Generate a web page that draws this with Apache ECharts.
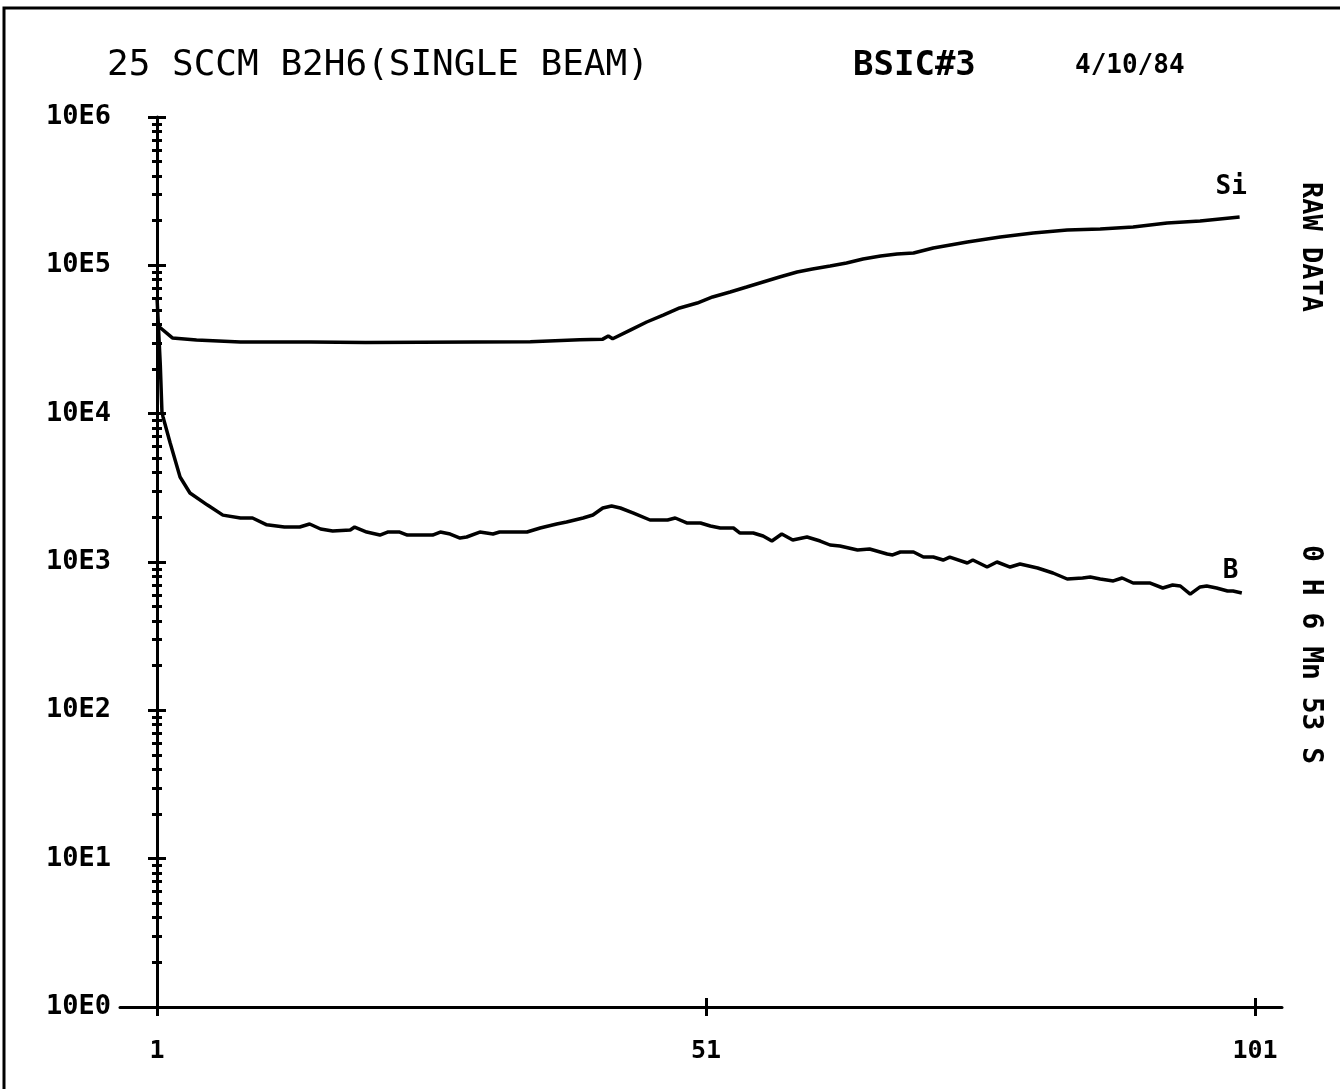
<!DOCTYPE html>
<html>
<head>
<meta charset="utf-8">
<script src="https://cdn.jsdelivr.net/npm/echarts@6/dist/echarts.min.js"></script>
<style>
html, body { margin: 0; padding: 0; background: #fff; }
#chart { width: 1340px; height: 1089px; }
</style>
</head>
<body>
<div id="chart"></div>
<script>
// Si signal (raw counts) vs scan number
var siX = [1.0, 2.4, 4.6, 8.6, 15, 20, 25, 30, 35, 39.5, 41.6, 42.1, 42.5, 44.1, 45.6, 47.1, 48.6, 50.2, 51.6, 53.2, 54.7, 56.2, 57.7, 59.3, 60.7, 62.3, 63.8, 65.3, 66.9, 68.4, 69.9, 71.7, 74.8, 77.8, 80.8, 83.9, 86.9, 89.9, 93.0, 96.0, 99.6];
var siY = [39600, 32400, 31400, 30400, 30400, 30200, 30300, 30400, 30500, 31500, 31800, 33400, 32000, 36600, 41500, 46200, 51600, 55700, 61200, 66100, 71400, 77200, 83400, 90200, 94500, 99000, 103700, 110300, 115600, 119200, 121100, 130900, 143700, 155200, 165200, 173100, 175800, 181300, 193000, 199000, 211800];

// B signal (raw counts) vs scan number
var bX = [1.0, 1.3, 1.45, 1.55, 2.2, 3.1, 4.0, 5.6, 7.0, 8.6, 9.7, 11.0, 12.6, 14.0, 14.9, 15.9, 17.0, 18.6, 19.0, 20.1, 21.3, 22.0, 23.1, 23.8, 26.1, 26.8, 27.7, 28.6, 29.2, 30.4, 31.6, 32.2, 34.7, 35.9, 37.4, 38.3, 39.8, 40.7, 41.6, 42.4, 43.2, 44.4, 45.9, 47.5, 48.2, 49.3, 50.5, 51.4, 52.3, 53.5, 54.1, 55.3, 56.2, 57.0, 57.9, 58.9, 60.2, 61.4, 62.3, 63.2, 64.8, 65.9, 67.5, 68.0, 68.7, 69.9, 70.8, 71.7, 72.6, 73.2, 74.8, 75.3, 76.6, 77.5, 78.7, 79.6, 81.2, 82.6, 83.9, 85.3, 86.0, 86.9, 88.1, 88.9, 89.9, 91.4, 92.6, 93.5, 94.2, 95.1, 96.0, 96.6, 97.5, 98.5, 99.0, 99.8];
var bY = [61000, 21300, 10300, 9500, 6340, 3740, 2920, 2420, 2070, 1980, 1980, 1780, 1720, 1721, 1803, 1669, 1618, 1643, 1721, 1592, 1520, 1592, 1592, 1520, 1520, 1592, 1544, 1451, 1474, 1592, 1544, 1592, 1592, 1695, 1803, 1860, 1980, 2074, 2312, 2385, 2312, 2139, 1919, 1919, 1980, 1831, 1831, 1748, 1695, 1695, 1568, 1568, 1497, 1385, 1544, 1407, 1474, 1385, 1302, 1282, 1204, 1224, 1132, 1115, 1168, 1168, 1080, 1080, 1031, 1080, 985, 1031, 925, 1000, 925, 969, 911, 843, 768, 780, 792, 768, 745, 780, 722, 722, 668, 700, 689, 608, 679, 689, 668, 638, 638, 618];

var xTicks = [1, 51, 101];
var yDecades = [1, 10, 100, 1000, 10000, 100000, 1000000];
var yTickLabels = ['10E0', '10E1', '10E2', '10E3', '10E4', '10E5', '10E6'];

var yMinor = [];
for (var d = 0; d < yDecades.length - 1; d++) {
    for (var k = 2; k <= 9; k++) yMinor.push(yDecades[d] * k);
}

function pairs(xs, ys) {
    return xs.map(function (x, i) { return [x, ys[i]]; });
}

var FONT = 'DejaVu Sans Mono';
var chart = echarts.init(document.getElementById('chart'));

function yAx(ticks, len, inside, main) {
    return {
        type: 'log', logBase: 10, min: 1, max: 1000000,
        position: 'left', offset: -37,
        axisLine: { show: main, lineStyle: { color: '#000', width: 3 } },
        axisTick: { show: true, customValues: ticks, length: len, inside: inside,
            lineStyle: { color: '#000', width: 3 } },
        axisLabel: main ? {
            show: true, customValues: yDecades, margin: 46,
            fontFamily: FONT, fontWeight: 'bold', fontSize: 27, color: '#000',
            formatter: function (v) { return yTickLabels[yDecades.indexOf(v)]; }
        } : { show: false },
        splitLine: { show: false },
        minorTick: { show: false }
    };
}

function xAx(inside, main) {
    return {
        type: 'value', min: -2.37, max: 103.46, position: 'bottom',
        axisLine: { show: main, onZero: false, lineStyle: { color: '#000', width: 3 } },
        axisTick: { show: true, customValues: xTicks, length: 9, inside: inside,
            lineStyle: { color: '#000', width: 3 } },
        axisLabel: main ? {
            show: true, customValues: xTicks, margin: 32,
            fontFamily: FONT, fontWeight: 'bold', fontSize: 25, color: '#000'
        } : { show: false },
        splitLine: { show: false }
    };
}

var option = {
    backgroundColor: '#fff',
    animation: false,
    grid: { left: 120, right: 58, top: 117, bottom: 82 },
    xAxis: [xAx(false, true), xAx(true, false)],
    yAxis: [
        yAx(yDecades, 9, false, true),
        yAx(yDecades, 9, true, false),
        yAx(yMinor, 5, false, false),
        yAx(yMinor, 5, true, false)
    ],
    series: [
        {
            name: 'Si', type: 'line', data: pairs(siX, siY),
            showSymbol: false, symbol: 'none',
            lineStyle: { color: '#000', width: 3.5 },
            endLabel: { show: true, formatter: 'Si', offset: [-32, -30],
                fontFamily: FONT, fontWeight: 'bold', fontSize: 26, color: '#000' }
        },
        {
            name: 'B', type: 'line', data: pairs(bX, bY),
            showSymbol: false, symbol: 'none',
            lineStyle: { color: '#000', width: 3.5 },
            endLabel: { show: true, formatter: 'B', offset: [-27, -22],
                fontFamily: FONT, fontWeight: 'bold', fontSize: 26, color: '#000' }
        }
    ],
    graphic: [
        { type: 'rect', shape: { x: 4, y: 8, width: 1400, height: 1200 },
          style: { fill: 'none', stroke: '#000', lineWidth: 3 } },
        { type: 'text', x: 107, y: 66,
          style: { text: '25 SCCM B2H6(SINGLE BEAM)', font: '36px "DejaVu Sans Mono"',
                   fill: '#000', verticalAlign: 'middle' } },
        { type: 'text', x: 853, y: 66,
          style: { text: 'BSIC#3', font: 'bold 34px "DejaVu Sans Mono"',
                   fill: '#000', verticalAlign: 'middle' } },
        { type: 'text', x: 1075, y: 66,
          style: { text: '4/10/84', font: 'bold 26px "DejaVu Sans Mono"',
                   fill: '#000', verticalAlign: 'middle' } },
        { type: 'text', x: 1310, y: 182, rotation: -Math.PI / 2,
          style: { text: 'RAW DATA', font: 'bold 27px "DejaVu Sans Mono"',
                   fill: '#000', verticalAlign: 'middle' } },
        { type: 'text', x: 1310, y: 545, rotation: -Math.PI / 2,
          style: { text: '0 H 6 Mn 53 S', font: 'bold 28px "DejaVu Sans Mono"',
                   fill: '#000', verticalAlign: 'middle' } }
    ]
};

chart.setOption(option);
</script>
</body>
</html>
